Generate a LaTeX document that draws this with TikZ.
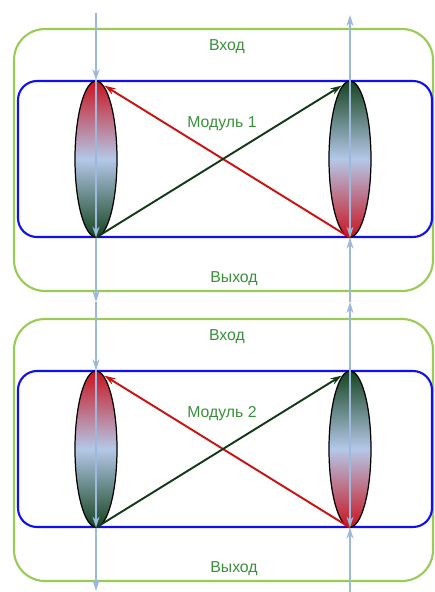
\documentclass[tikz,border=0pt]{standalone}
\usepackage{fontspec}
\setmainfont{Liberation Sans}
\usepackage{tikz}
\usetikzlibrary{arrows.meta,positioning,calc,shapes.geometric}
\definecolor{outerbox}{HTML}{99CC55}
\definecolor{innerbox}{HTML}{1010EE}
\definecolor{lbl}{HTML}{3A8F3A}
\definecolor{ray}{HTML}{9CB8DC}
\definecolor{lensred}{HTML}{C81420}
\definecolor{lensmid}{HTML}{B4C8E8}
\definecolor{lensgreen}{HTML}{164420}
\definecolor{fwd}{HTML}{CC1111}
\definecolor{back}{HTML}{123A18}
\tikzset{
  lensbox/.style={draw=black, line width=0.7pt, ellipse, inner sep=0pt,
    minimum width=0.84cm, minimum height=3.12cm},
  rayarr/.style={draw=ray, line width=1.1pt, -{Stealth[length=2.2mm, width=1.4mm, inset=0.7mm]}},
  crossarr/.style={line width=1.1pt, shorten >=0.2cm, -{Stealth[length=2.2mm, width=1.4mm, inset=0.7mm]}},
}

\begin{document}
\begin{tikzpicture}[x=0.02cm, y=-0.02cm, font=\fontsize{9}{11}\selectfont,
  tag/.style={text=lbl, inner sep=1pt}]
  \useasboundingbox (0,0) rectangle (434,592);
  % two identical modules, the second one 290px lower
  \foreach \m/\dy in {1/0, 2/290} {
    \draw[outerbox, line width=1.2pt, rounded corners=0.62cm] (14,29+\dy) rectangle (433,291+\dy);
    \draw[innerbox, line width=1.2pt, rounded corners=0.38cm] (18,81+\dy) rectangle (432,237+\dy);
    \node[tag] (in\m) at (227,47+\dy) {Вход};
    \node[tag] (name\m) at (222,124+\dy) {Модуль \m};
    \node[tag] (out\m) at (234,279+\dy) {Выход};
    \node[lensbox, top color=lensred, bottom color=lensgreen, middle color=lensmid] (lensL\m) at (96,159+\dy) {};
    \node[lensbox, top color=lensgreen, bottom color=lensred, middle color=lensmid] (lensR\m) at (350,159+\dy) {};
    \draw[crossarr, fwd] (lensR\m.south) -- (lensL\m.north);
    \draw[crossarr, back] (lensL\m.south) -- (lensR\m.north);
    \draw[rayarr] (lensL\m.north) -- (lensL\m.south);
    \draw[rayarr] (lensR\m.north) -- (lensR\m.south);
  }
  % free ends of the rays
  \coordinate (topL) at (96,13);
  \coordinate (midL) at (96,302);
  \coordinate (botL) at (96,591);
  \coordinate (topR) at (350,15);
  \coordinate (midR) at (350,302);
  \coordinate (botR) at (350,592);
  \draw[rayarr] (topL) -- (lensL1.north);
  \draw[rayarr] (lensL1.south) -- (midL);
  \draw[rayarr] (midL) -- (lensL2.north);
  \draw[rayarr] (lensL2.south) -- (botL);
  \draw[rayarr] (lensR1.north) -- (topR);
  \draw[rayarr] (midR) -- (lensR1.south);
  \draw[rayarr] (lensR2.north) -- (midR);
  \draw[rayarr] (botR) -- (lensR2.south);
\end{tikzpicture}
\end{document}
